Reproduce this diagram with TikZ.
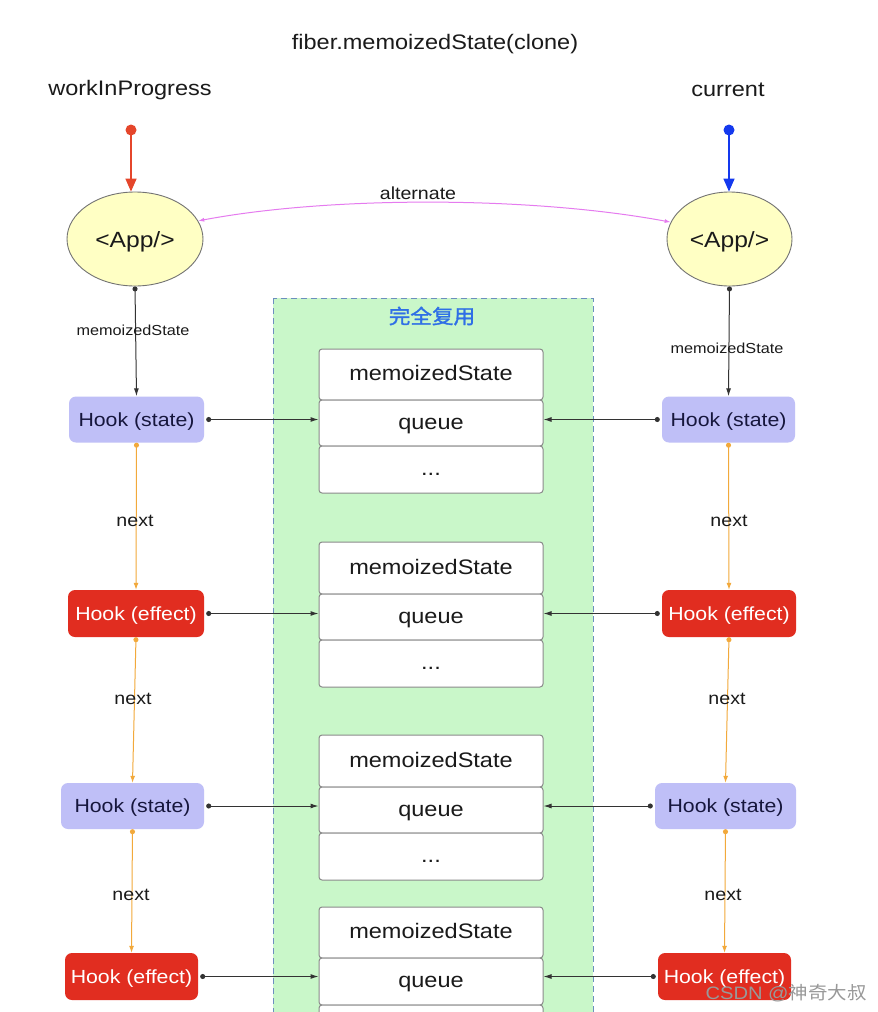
\documentclass[tikz,border=0pt]{standalone}
\usepackage{fontspec}
\setmainfont{Liberation Sans}[FakeStretch=1.12]
\newfontfamily\cjk{Noto Sans CJK SC}[FakeStretch=1.08]
\newfontfamily\cjkb{Noto Sans CJK SC}[FakeStretch=1.08,FakeBold=1.5]
\usetikzlibrary{arrows.meta,shapes.geometric}
\definecolor{hookS}{HTML}{BFBFF7}
\definecolor{hookE}{HTML}{E12D20}
\definecolor{appY}{HTML}{FFFFC4}
\definecolor{grn}{HTML}{C9F7C9}
\definecolor{dashB}{HTML}{6C8EBF}
\definecolor{orng}{HTML}{F2A93B}
\definecolor{magn}{HTML}{E57BEF}
\definecolor{ptrR}{HTML}{E5462B}
\definecolor{ptrB}{HTML}{1439EE}
\definecolor{cjkblue}{HTML}{2F6FE6}
\definecolor{recgray}{HTML}{8A8A8A}
\definecolor{txt}{HTML}{1A1A1A}
\tikzset{
  hookst/.style={rectangle, rounded corners=7pt, fill=hookS, inner sep=0pt,
    minimum height=46pt, text=txt!85!blue, text height=17pt, text depth=3.4pt,
    font=\fontsize{19}{22}\selectfont},
  hookef/.style={rectangle, rounded corners=7pt, fill=hookE, inner sep=0pt,
    minimum height=47pt, text=white, text height=17pt, text depth=3.4pt,
    font=\fontsize{19}{22}\selectfont},
  rec/.style={rectangle, rounded corners=3pt, draw=recgray, fill=white, line width=1pt,
    minimum width=224pt, inner sep=0pt, text=txt, text height=15pt, text depth=3pt,
    font=\fontsize{21}{24}\selectfont},
  app/.style={ellipse, draw=black!55, fill=appY, line width=0.9pt, inner sep=0pt,
    minimum height=94pt, text=txt, text height=19pt, text depth=3pt,
    font=\fontsize{22}{26}\selectfont},
  lbl/.style={text=txt, font=\fontsize{21}{25}\selectfont},
  nextlbl/.style={text=txt, font=\fontsize{17.5}{20}\selectfont},
  ptrlink/.style={line width=1pt, draw=black!80, {Circle[length=5pt]}-{Latex[length=8pt,width=5pt]}},
  nextlink/.style={line width=1pt, draw=orng, {Circle[length=5pt,fill=orng]}-{Latex[length=7pt,width=5pt]}},
}
\begin{document}
\begin{tikzpicture}[x=1pt,y=-1pt]
\useasboundingbox (0,0) rectangle (878,1012);
\fill[white] (0,0) rectangle (878,1012);

% reuse area
\draw[draw=dashB, dash pattern=on 6pt off 4pt, fill=grn, line width=0.9pt] (273,298) rectangle (593,1030);
\node (reuse) [text=cjkblue, font=\cjkb\fontsize{20}{24}\selectfont] at (432,316) {完全复用};

% titles
\node (title) [lbl] at (435,44) {fiber.memoizedState(clone)};
\node (wip) [lbl] at (130,90) {workInProgress};
\node (cur) [lbl] at (728,90) {current};

% app fibers
\node (Lapp) [app, minimum width=136pt] at (135,239) {<App/>};
\node (Rapp) [app, minimum width=125pt] at (729.5,239) {<App/>};

% pointers
\coordinate (rdot) at (131,130);
\coordinate (bdot) at (729,130);
\fill[ptrR] (rdot) circle (5.5pt);
\fill[ptrB] (bdot) circle (5.5pt);
\draw[ptrR, line width=1.6pt, -{Triangle[length=13pt,width=11pt]}] (rdot) -- (rdot |- Lapp.north);
\draw[ptrB, line width=1.6pt, -{Triangle[length=13pt,width=11pt]}] (bdot) -- (bdot |- Rapp.north);

% alternate
\draw[magn, line width=1pt, {Latex[length=6pt,width=4pt]}-{Latex[length=6pt,width=4pt]}]
  (Lapp.16) .. controls (330,196) and (530,196) .. (Rapp.164);
\node (alt) [nextlbl] at (418,193) {alternate};

% hooks left
\node (L1) [hookst, minimum width=135pt] at (136.5,419.5) {Hook (state)};
\node (L2) [hookef, minimum width=136pt] at (136,613.5) {Hook (effect)};
\node (L3) [hookst, minimum width=143pt] at (132.5,806) {Hook (state)};
\node (L4) [hookef, minimum width=133pt] at (131.5,976.5) {Hook (effect)};
% hooks right
\node (R1) [hookst, minimum width=133pt] at (728.5,419.5) {Hook (state)};
\node (R2) [hookef, minimum width=134pt] at (729,613.5) {Hook (effect)};
\node (R3) [hookst, minimum width=141pt] at (725.5,806) {Hook (state)};
\node (R4) [hookef, minimum width=133pt] at (724.5,976.5) {Hook (effect)};

% records
\node (m1) [rec, minimum height=51pt] at (431,374.5) {memoizedState};
\node (q1) [rec, minimum height=46pt] at (431,423) {queue};
\node (d1) [rec, minimum height=47pt] at (431,469.5) {...};
\node (m2) [rec, minimum height=52pt] at (431,568) {memoizedState};
\node (q2) [rec, minimum height=46pt] at (431,617) {queue};
\node (d2) [rec, minimum height=47pt] at (431,663.5) {...};
\node (m3) [rec, minimum height=52pt] at (431,761) {memoizedState};
\node (q3) [rec, minimum height=46pt] at (431,810) {queue};
\node (d3) [rec, minimum height=47pt] at (431,856.5) {...};
\node (m4) [rec, minimum height=51pt] at (431,932.5) {memoizedState};
\node (q4) [rec, minimum height=47pt] at (431,981.5) {queue};
\node (d4) [rec, minimum height=47pt] at (431,1028.5) {};

% memoizedState links
\draw[ptrlink] (Lapp.south) -- (L1.north);
\draw[ptrlink] (Rapp.south) -- (R1.north);
\node (lms) [text=txt, font=\fontsize{14.5}{17}\selectfont] at (133,330) {memoizedState};
\node (rms) [text=txt, font=\fontsize{14.5}{17}\selectfont] at (727,348) {memoizedState};

% hook -> queue links
\draw[ptrlink] ([xshift=2pt]L1.east) -- (L1.east -| q1.west);
\draw[ptrlink] ([xshift=2pt]L2.east) -- (L2.east -| q2.west);
\draw[ptrlink] ([xshift=2pt]L3.east) -- (L3.east -| q3.west);
\draw[ptrlink] ([xshift=2pt]L4.east) -- (L4.east -| q4.west);
\draw[ptrlink] ([xshift=-2pt]R1.west) -- (R1.west -| q1.east);
\draw[ptrlink] ([xshift=-2pt]R2.west) -- (R2.west -| q2.east);
\draw[ptrlink] ([xshift=-2pt]R3.west) -- (R3.west -| q3.east);
\draw[ptrlink] ([xshift=-2pt]R4.west) -- (R4.west -| q4.east);

% next links
\draw[nextlink] (L1.south) -- (L2.north);
\draw[nextlink] (L2.south) -- (L3.north);
\draw[nextlink] (L3.south) -- (L4.north);
\draw[nextlink] (R1.south) -- (R2.north);
\draw[nextlink] (R2.south) -- (R3.north);
\draw[nextlink] (R3.south) -- (R4.north);
\node (n1) [nextlbl] at (135,521) {next};
\node (n2) [nextlbl] at (133,699) {next};
\node (n3) [nextlbl] at (131,895) {next};
\node (n4) [nextlbl] at (729,521) {next};
\node (n5) [nextlbl] at (727,699) {next};
\node (n6) [nextlbl] at (723,895) {next};

% watermark
\node (wm) [text=black!40, font=\fontsize{18}{21}\selectfont] at (786,993) {CSDN @{\cjk 神奇大叔}};
\end{tikzpicture}
\end{document}
